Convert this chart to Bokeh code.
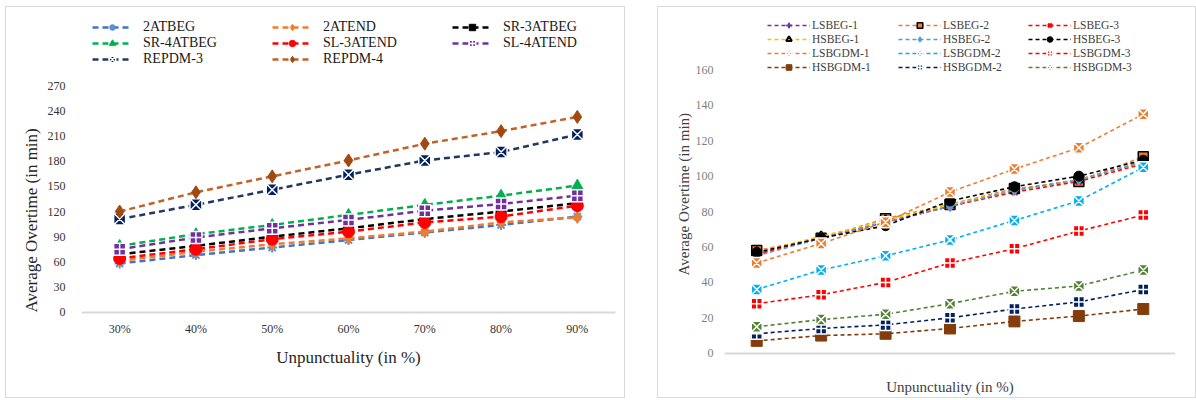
from bokeh.plotting import figure
from bokeh.models import FactorRange, Range1d, FixedTicker, Legend, LegendItem, Spacer, Title
from bokeh.layouts import row, column
from bokeh.embed import file_html
from bokeh.resources import INLINE

# ---------------- data ----------------
categories = ["30%", "40%", "50%", "60%", "70%", "80%", "90%"]

# left chart
left_labels = ["2ATBEG", "2ATEND", "SR-3ATBEG", "SR-4ATBEG", "SL-3ATEND", "SL-4ATEND", "REPDM-3", "REPDM-4"]
a2atbeg = [58, 68, 77, 86, 95, 104, 114]
a2atend = [61, 72, 81, 88, 96, 107, 113]
sr3atbeg = [69, 79, 90, 100, 111, 120, 130]
sr4atbeg = [79, 93, 104, 116, 128, 139, 151]
sl3atend = [64, 75, 87, 96, 107, 114, 127]
sl4atend = [75, 89, 100, 110, 121, 129, 139]
repdm3 = [111, 128, 146, 164, 181, 191, 212]
repdm4 = [120, 143, 162, 181, 201, 216, 233]
left_values = [a2atbeg, a2atend, sr3atbeg, sr4atbeg, sl3atend, sl4atend, repdm3, repdm4]
left_ticks = [0, 30, 60, 90, 120, 150, 180, 210, 240, 270]

# right chart
right_labels = ["LSBEG-1", "LSBEG-2", "LSBEG-3", "HSBEG-1", "HSBEG-2", "HSBEG-3",
                "LSBGDM-1", "LSBGDM-2", "LSBGDM-3", "HSBGDM-1", "HSBGDM-2", "HSBGDM-3"]
lsbeg1 = [56, 65, 74, 83, 92, 98, 108]
lsbeg2 = [58, 65, 76, 84, 93, 97, 111]
lsbeg3 = [56, 65, 74, 83, 91, 97, 107]
hsbeg1 = [57, 66, 75, 84, 92, 98, 108]
hsbeg2 = [55, 65, 74, 83, 92, 98, 108]
hsbeg3 = [57, 65, 72, 86, 94, 100, 109]
lsbgdm1 = [51, 62, 74, 91, 104, 116, 135]
lsbgdm2 = [36, 47, 55, 64, 75, 86, 105]
lsbgdm3 = [28, 33, 40, 51, 59, 69, 78]
hsbgdm1 = [7, 10, 11, 14, 18, 21, 25]
hsbgdm2 = [11, 14, 16, 20, 25, 29, 36]
hsbgdm3 = [15, 19, 22, 28, 35, 38, 47]
right_values = [lsbeg1, lsbeg2, lsbeg3, hsbeg1, hsbeg2, hsbeg3,
                lsbgdm1, lsbgdm2, lsbgdm3, hsbgdm1, hsbgdm2, hsbgdm3]
right_ticks = [0, 20, 40, 60, 80, 100, 120, 140, 160]

FONT = "Liberation Serif"

# ---------------- styles ----------------
# (line color, marker, marker fill, marker line, size, marker line width)
left_styles = [
    ("#4472C4", "asterisk", "#4472C4", "#5B8FD5", 10, 2),
    ("#ED7D31", "diamond", "#ED7D31", "#ED7D31", 12, 1),
    ("#000000", "square", "#000000", "#000000", 10, 1),
    ("#00B050", "triangle", "#00B050", "#00B050", 11, 1),
    ("#FF0000", "circle", "#FF0000", "#FF0000", 12, 1),
    ("#7030A0", "square_cross", "#7030A0", "white", 12, 1.5),
    ("#1F3864", "square_x", "#002060", "white", 12, 1.5),
    ("#C0622A", "diamond", "#A04A12", "#A04A12", 13, 1),
]

right_styles = [
    ("#7030A0", "cross", "#7030A0", "#7030A0", 9, 2),
    ("#ED7D31", "square", "#ED7D31", "#000000", 10, 1.5),
    ("#FF0000", "x", "#FF0000", "#FF0000", 8, 2.5),
    ("#FFC000", "triangle", "#FFC000", "#000000", 9, 2),
    ("#5B9BD5", "diamond", "#5B9BD5", "#5B9BD5", 11, 1),
    ("#000000", "circle", "#000000", "#000000", 10, 1),
    ("#ED7D31", "square_x", "#ED7D31", "white", 11, 1.5),
    ("#00B0F0", "square_x", "#00B0F0", "white", 11, 1.5),
    ("#FF0000", "square_cross", "#FF0000", "white", 11, 1.5),
    ("#843C0C", "square", "#843C0C", "#843C0C", 11, 1),
    ("#002060", "square_cross", "#002060", "white", 11, 1.5),
    ("#548235", "square_x", "#548235", "white", 11, 1.5),
]


def style_axes(p, tick_color, title_color, tick_size, title_size):
    for ax in (p.xaxis[0], p.yaxis[0]):
        ax.major_tick_line_color = None
        ax.minor_tick_line_color = None
        ax.major_tick_out = 0
        ax.major_tick_in = 0
        ax.minor_tick_out = 0
        ax.minor_tick_in = 0
        ax.major_label_text_font = FONT
        ax.major_label_text_font_size = tick_size
        ax.major_label_text_color = tick_color
        ax.axis_label_text_font = FONT
        ax.axis_label_text_font_size = title_size
        ax.axis_label_text_font_style = "normal"
        ax.axis_label_text_color = title_color
    p.yaxis[0].axis_line_color = None
    p.xaxis[0].axis_line_color = "#D9D9D9"
    p.xaxis[0].axis_line_width = 2
    p.xaxis[0].fixed_location = 0
    p.xgrid.visible = False
    p.ygrid.visible = False


# frame spans the whole content height (7..397 px); value 0 sits at y=310 (left) / y=351 (right)
# ---------------- left figure ----------------
p1 = figure(x_range=FactorRange(*categories), y_range=Range1d(-104.4, 363.6),
            frame_width=532, frame_height=390,
            min_border_left=75, min_border_right=11, min_border_top=0, min_border_bottom=0,
            output_backend="svg", toolbar_location=None, outline_line_color=None,
            background_fill_color="white", border_fill_color="white",
            styles={"border": "1px solid #D9D9D9"})
style_axes(p1, "#333333", "#262626", "12px", "17px")
p1.yaxis[0].ticker = FixedTicker(ticks=left_ticks)
p1.yaxis[0].major_label_standoff = 16
p1.xaxis[0].major_label_standoff = 10
p1.xaxis[0].axis_label = "Unpunctuality (in %)"
p1.xaxis[0].axis_label_standoff = 8
p1.add_layout(Title(text="Average Overtime (in min)", align="left", offset=87,
                    text_font=FONT, text_font_size="17px", text_font_style="normal",
                    text_color="#262626", standoff=8), "left")

left_items = []
for name, vals, (lc, mk, fc, mlc, sz, mlw) in zip(left_labels, left_values, left_styles):
    lr = p1.line(categories, vals, line_color=lc, line_width=2.5, line_dash="6 4")
    sr = p1.scatter(categories, vals, marker=mk, size=sz, fill_color=fc, line_color=mlc, line_width=mlw)
    left_items.append(LegendItem(label=name, renderers=[lr, sr]))

left_cols = [[0, 3, 6], [1, 4, 7], [2, 5]]
left_x = [11, 191, 371]
for idxs, vx in zip(left_cols, left_x):
    n = len(idxs)
    lg = Legend(items=[left_items[i] for i in idxs], location=(vx, 397 - 17 - 16 * n),
                orientation="vertical", glyph_width=40, glyph_height=16, label_height=16,
                label_standoff=11, spacing=0, padding=0, margin=0,
                border_line_color=None, background_fill_alpha=0,
                label_text_font=FONT, label_text_font_size="14px", label_text_color="#1a1a1a")
    p1.add_layout(lg)

# ---------------- right figure ----------------
p2 = figure(x_range=FactorRange(*categories), y_range=Range1d(-26.1, 195.2),
            frame_width=449, frame_height=390,
            min_border_left=66, min_border_right=22, min_border_top=0, min_border_bottom=0,
            output_backend="svg", toolbar_location=None, outline_line_color=None,
            background_fill_color="white", border_fill_color="white",
            styles={"border": "1px solid #D9D9D9"})
style_axes(p2, "#7F7F7F", "#404040", "12px", "15px")
p2.yaxis[0].ticker = FixedTicker(ticks=right_ticks)
p2.yaxis[0].major_label_standoff = 11
p2.xaxis[0].major_label_text_color = None
p2.xaxis[0].major_label_standoff = 0
p2.xaxis[0].axis_label = "Unpunctuality (in %)"
p2.xaxis[0].axis_label_standoff = 25
p2.add_layout(Title(text="Average Overtime (in min)", align="left", offset=124,
                    text_font=FONT, text_font_size="15px", text_font_style="normal",
                    text_color="#404040", standoff=1), "left")

right_items = []
for name, vals, (lc, mk, fc, mlc, sz, mlw) in zip(right_labels, right_values, right_styles):
    lr = p2.line(categories, vals, line_color=lc, line_width=1.6, line_dash="4 3")
    sr = p2.scatter(categories, vals, marker=mk, size=sz, fill_color=fc, line_color=mlc, line_width=mlw)
    right_items.append(LegendItem(label=name, renderers=[lr, sr]))

right_cols = [[0, 3, 6, 9], [1, 4, 7, 10], [2, 5, 8, 11]]
right_x = [43, 174, 304]
for idxs, vx in zip(right_cols, right_x):
    lg = Legend(items=[right_items[i] for i in idxs], location=(vx, 397 - 72),
                orientation="vertical", glyph_width=43, glyph_height=14, label_height=14,
                label_standoff=2, spacing=0, padding=0, margin=0,
                border_line_color=None, background_fill_alpha=0,
                label_text_font=FONT, label_text_font_size="11.5px", label_text_color="#404040")
    p2.add_layout(lg)

layout = column(Spacer(height=6),
                row(Spacer(width=5), p1, Spacer(width=32), p2))

open("out.html", "w").write(file_html(layout, INLINE))
